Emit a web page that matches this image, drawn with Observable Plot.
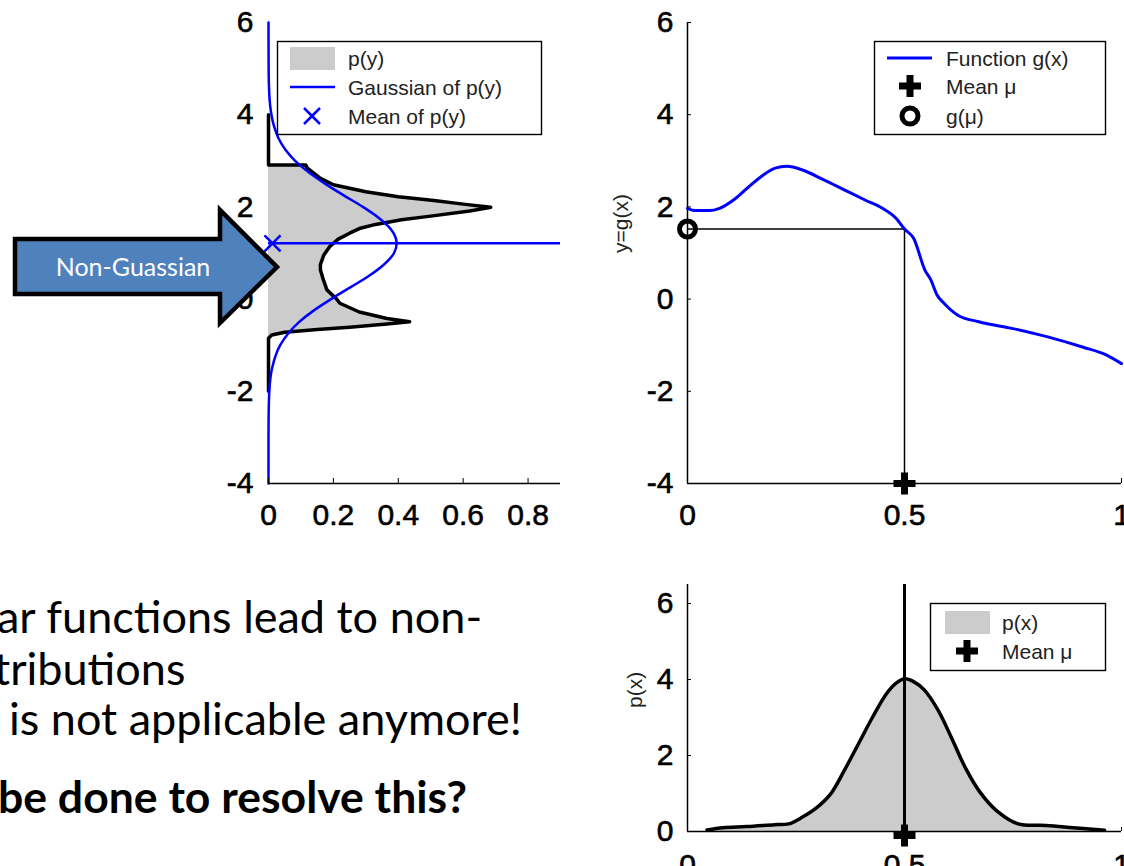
<!DOCTYPE html>
<html>
<head>
<meta charset="utf-8">
<script src="https://cdn.jsdelivr.net/npm/d3@7"></script>
<script src="https://cdn.jsdelivr.net/npm/@observablehq/plot@0.6"></script>
<style>
  html, body { margin: 0; padding: 0; background: #ffffff; }
  #slide { position: relative; width: 1124px; height: 866px; overflow: hidden; background: #ffffff; }
  #slide > div { position: absolute; }
  /* heavier tick numerals, as in the exported figure */
  #slide g[aria-label$="tick label"] text { stroke: black; stroke-width: 0.6px; }
</style>
</head>
<body>
<div id="slide"></div>
<script>
// ---------- data ----------
// p(y): density of the transformed variable, traced along y
const pyY = [4.0, 2.91, 2.91, 2.84, 2.62, 2.48, 2.33, 2.22, 2.14, 2.06, 1.99, 1.91, 1.80, 1.72, 1.62, 1.53, 1.43, 1.30, 1.15, 0.95, 0.75, 0.63, 0.40, 0.20, 0.0, -0.09, -0.28, -0.42, -0.49, -0.54, -0.61, -0.66, -0.72, -0.78, -0.85, -2.0];
const pyP = [0, 0, 0.115, 0.12, 0.16, 0.20, 0.30, 0.40, 0.51, 0.60, 0.685, 0.62, 0.50, 0.41, 0.33, 0.28, 0.25, 0.215, 0.19, 0.17, 0.16, 0.16, 0.17, 0.18, 0.21, 0.22, 0.28, 0.365, 0.435, 0.365, 0.25, 0.15, 0.05, 0.01, 0, 0];

// Gaussian fitted to p(y)
const gaussY = [6, 5, 4.5, 4, 3.75, 3.5, 3.25, 3, 2.75, 2.5, 2.25, 2, 1.75, 1.5, 1.21, 1, 0.75, 0.5, 0.25, 0, -0.25, -0.5, -0.75, -1, -1.5, -2, -2.5, -3, -4];
const gaussP = [0, 0.0004, 0.002, 0.009, 0.017, 0.030, 0.051, 0.082, 0.124, 0.175, 0.232, 0.291, 0.342, 0.379, 0.395, 0.387, 0.356, 0.309, 0.251, 0.193, 0.139, 0.094, 0.060, 0.036, 0.011, 0.0025, 0.0005, 0, 0];
const meanOfPy = 1.21;

// nonlinear function y = g(x)
const gX = [0, 0.018, 0.05, 0.074, 0.106, 0.138, 0.17, 0.202, 0.229, 0.265, 0.313, 0.361, 0.409, 0.449, 0.481, 0.5, 0.521, 0.547, 0.561, 0.575, 0.591, 0.623, 0.671, 0.75, 0.83, 0.91, 0.967, 1.0];
const gY = [1.97, 1.92, 1.92, 1.97, 2.15, 2.41, 2.66, 2.84, 2.88, 2.80, 2.59, 2.37, 2.15, 1.97, 1.75, 1.52, 1.32, 0.63, 0.41, 0.09, -0.09, -0.35, -0.49, -0.64, -0.82, -1.04, -1.22, -1.40];
const meanMu = 0.5;
const gOfMu = 1.52;

// input density p(x)
const pxX = [0.045, 0.082, 0.137, 0.201, 0.233, 0.265, 0.297, 0.33, 0.361, 0.394, 0.426, 0.458, 0.48, 0.5, 0.52, 0.546, 0.577, 0.609, 0.641, 0.673, 0.714, 0.762, 0.826, 0.889, 0.961];
const pxP = [0.04, 0.10, 0.13, 0.18, 0.20, 0.38, 0.62, 0.99, 1.60, 2.31, 3.00, 3.62, 3.90, 4.02, 3.95, 3.72, 3.20, 2.45, 1.66, 1.05, 0.53, 0.20, 0.16, 0.10, 0.03];

// ticks and their labels
const pyTicks = [0, 0.2, 0.4, 0.6, 0.8];
const pyTickLabels = ["0", "0.2", "0.4", "0.6", "0.8"];
const yTicks = [-4, -2, 0, 2, 4, 6];
const yTickLabels = ["-4", "-2", "0", "2", "4", "6"];
const xTicks = [0, 0.5, 1];
const xTickLabels = ["0", "0.5", "1"];
const pTicks = [0, 2, 4, 6];
const pTickLabels = ["0", "2", "4", "6"];

// texts
const legendPy = ["p(y)", "Gaussian of p(y)", "Mean of p(y)"];
const legendG = ["Function g(x)", "Mean \u03bc", "g(\u03bc)"];
const legendPx = ["p(x)", "Mean \u03bc"];
const labelG = "y=g(x)";
const labelPx = "p(x)";
const arrowLabel = "Non-Guassian";
const bodyLines = ["ar functions lead to non-", "tributions", "is not applicable anymore!"];
const boldLine = "be done to resolve this?";

// ---------- helpers ----------
const W = 1124, H = 866;
const BLUE = "#0000ff";
const slide = document.getElementById("slide");
const axisFont = "'Liberation Sans', Arial, Helvetica, sans-serif";
const slideFont = "Lato, 'Open Sans', sans-serif";

function place(node, left, top, width) {
  const div = document.createElement("div");
  div.style.left = left + "px";
  div.style.top = top + "px";
  div.style.width = width + "px";
  div.appendChild(node);
  slide.appendChild(div);
}
const labeler = (ticks, labels) => {
  const m = new Map(ticks.map((t, i) => [t, labels[i]]));
  return d => m.get(d);
};
const plusSymbol = {draw(ctx, size) { const r = Math.sqrt(size / Math.PI); ctx.moveTo(-r, 0); ctx.lineTo(r, 0); ctx.moveTo(0, -r); ctx.lineTo(0, r); }};
const timesSymbol = {draw(ctx, size) { const r = Math.sqrt(size / Math.PI); ctx.moveTo(-r, -r); ctx.lineTo(r, r); ctx.moveTo(-r, r); ctx.lineTo(r, -r); }};
const plotStyle = {fontFamily: axisFont, fontSize: "30px", background: "transparent", overflow: "visible", color: "black"};

const pyRows = pyY.map((y, i) => ({y, p: pyP[i]}));
const gaussRows = gaussY.map((y, i) => ({y, p: gaussP[i]}));
const gRows = gX.map((x, i) => ({x, y: gY[i]}));
const pxRows = pxX.map((x, i) => ({x, p: pxP[i]}));

// ---------- top left: p(y) with its Gaussian ----------
const plotPy = Plot.plot({
  width: 600, height: 560,
  marginLeft: 268, marginRight: 40, marginTop: 22, marginBottom: 77,
  x: {domain: [0, 0.9]},
  y: {domain: [-4, 6]},
  style: plotStyle,
  marks: [
    Plot.areaX(pyRows, {y: "y", x1: 0, x2: "p", fill: "#cccccc"}),
    Plot.lineX(pyRows, {x: "p", y: "y", stroke: "black", strokeWidth: 3.5}),
    Plot.lineX(gaussRows, {x: "p", y: "y", stroke: BLUE, strokeWidth: 2.5, curve: "monotone-y"}),
    Plot.ruleY([meanOfPy], {stroke: BLUE, strokeWidth: 2.5}),
    Plot.dot([meanOfPy], {x: 0, y: d => d, dx: 4, symbol: timesSymbol, r: 8, fill: "none", stroke: BLUE, strokeWidth: 2.5}),
    Plot.ruleY([-4], {stroke: "black", strokeWidth: 1.5}),
    Plot.axisX({ticks: pyTicks, tickFormat: labeler(pyTicks, pyTickLabels), tickSize: -5, tickPadding: 25, label: null}),
    Plot.axisY({ticks: yTicks, tickFormat: labeler(yTicks, yTickLabels), tickSize: 0, tickPadding: 15, label: null})
  ]
});
place(plotPy, 0, 0, 600);

// ---------- top right: g(x) ----------
const plotG = Plot.plot({
  width: 600, height: 560,
  marginLeft: 87, marginRight: 79, marginTop: 22, marginBottom: 77,
  x: {domain: [0, 1]},
  y: {domain: [-4, 6]},
  style: plotStyle,
  marks: [
    Plot.ruleX([0], {stroke: "black", strokeWidth: 1.5}),
    Plot.ruleY([-4], {stroke: "black", strokeWidth: 1.5}),
    Plot.ruleY([gOfMu], {x1: 0, x2: meanMu, stroke: "black", strokeWidth: 1.5}),
    Plot.ruleX([meanMu], {y1: -4, y2: gOfMu, stroke: "black", strokeWidth: 1.5}),
    Plot.line(gRows, {x: "x", y: "y", stroke: BLUE, strokeWidth: 3, curve: "monotone-x"}),
    Plot.dot([gOfMu], {x: 0, y: d => d, r: 8, fill: "none", stroke: "black", strokeWidth: 5}),
    Plot.dot([meanMu], {x: d => d, y: -4, symbol: plusSymbol, r: 11, fill: "none", stroke: "black", strokeWidth: 7}),
    Plot.axisX({ticks: xTicks, tickFormat: labeler(xTicks, xTickLabels), tickSize: -5, tickPadding: 25, label: null}),
    Plot.axisY({ticks: yTicks, tickFormat: labeler(yTicks, yTickLabels), tickSize: -4, tickPadding: 18, label: null}),
    Plot.text([labelG], {frameAnchor: "left", text: d => d, rotate: -90, dx: -66, fontSize: 21, fill: "#222"})
  ]
});
place(plotG, 600, 0, 600);

// ---------- bottom right: p(x) ----------
const plotPx = Plot.plot({
  width: 600, height: 340,
  marginLeft: 87, marginRight: 79, marginTop: 24, marginBottom: 69,
  x: {domain: [0, 1]},
  y: {domain: [0, 6.5]},
  style: plotStyle,
  marks: [
    Plot.areaY(pxRows, {x: "x", y1: 0, y2: "p", fill: "#cccccc", curve: "catmull-rom"}),
    Plot.line(pxRows, {x: "x", y: "p", stroke: "black", strokeWidth: 3.5, curve: "catmull-rom"}),
    Plot.ruleX([0], {stroke: "black", strokeWidth: 1.5}),
    Plot.ruleY([0], {stroke: "black", strokeWidth: 1.5}),
    Plot.ruleX([meanMu], {stroke: "black", strokeWidth: 3}),
    Plot.dot([meanMu], {x: d => d, y: 0, dy: 4, symbol: plusSymbol, r: 11, fill: "none", stroke: "black", strokeWidth: 7}),
    Plot.axisX({ticks: xTicks, tickFormat: labeler(xTicks, xTickLabels), tickSize: -4, tickPadding: 26, label: null}),
    Plot.axisY({ticks: pTicks, tickFormat: labeler(pTicks, pTickLabels), tickSize: -4, tickPadding: 18, label: null}),
    Plot.text([labelPx], {frameAnchor: "left", text: d => d, rotate: -90, dx: -52, fontSize: 21, fill: "#222"})
  ]
});
place(plotPx, 600, 560, 600);

// ---------- overlay: legends, arrow and slide text ----------
const ov = d3.create("svg")
  .attr("width", W).attr("height", H)
  .style("position", "absolute").style("left", "0px").style("top", "0px");

function box(x, y, w, h) {
  ov.append("rect").attr("x", x + 0.5).attr("y", y + 0.5).attr("width", w).attr("height", h)
    .attr("fill", "white").attr("stroke", "black").attr("stroke-width", 1.4);
}
function ltext(x, y, s) {
  ov.append("text").attr("x", x).attr("y", y).attr("dy", "0.36em")
    .attr("font-family", axisFont).attr("font-size", 21).attr("fill", "#222").text(s);
}
function patch(cx, cy) {
  ov.append("rect").attr("x", cx - 22).attr("y", cy - 11).attr("width", 45).attr("height", 23).attr("fill", "#cccccc");
}
function plusMark(cx, cy) {
  ov.append("path").attr("d", `M${cx - 11},${cy}H${cx + 11}M${cx},${cy - 11}V${cy + 11}`)
    .attr("stroke", "black").attr("stroke-width", 7).attr("fill", "none");
}

// legend of p(y)
box(277, 41, 264, 93);
patch(312, 58); ltext(348, 58, legendPy[0]);
ov.append("line").attr("x1", 290).attr("x2", 335).attr("y1", 87).attr("y2", 87).attr("stroke", BLUE).attr("stroke-width", 2.5);
ltext(348, 87, legendPy[1]);
ov.append("path").attr("d", "M304,108L320,124M304,124L320,108").attr("stroke", BLUE).attr("stroke-width", 2.5);
ltext(348, 116, legendPy[2]);

// legend of g(x)
box(874, 41, 231, 93);
ov.append("line").attr("x1", 887).attr("x2", 932).attr("y1", 58).attr("y2", 58).attr("stroke", BLUE).attr("stroke-width", 3);
ltext(946, 58, legendG[0]);
plusMark(910, 86); ltext(946, 86, legendG[1]);
ov.append("circle").attr("cx", 910).attr("cy", 116).attr("r", 8).attr("fill", "none").attr("stroke", "black").attr("stroke-width", 5);
ltext(946, 116, legendG[2]);

// legend of p(x)
box(930, 603, 175, 67);
patch(967, 622); ltext(1002, 622, legendPx[0]);
plusMark(967, 651); ltext(1002, 651, legendPx[1]);

// block arrow
ov.append("polygon")
  .attr("points", "15,239 220,239 220,210 277,267 220,323 220,294 15,294")
  .attr("fill", "#4f81bd").attr("stroke", "black").attr("stroke-width", 4.5).attr("stroke-linejoin", "miter");
ov.append("text").attr("x", 133).attr("y", 267).attr("dy", "0.35em").attr("text-anchor", "middle")
  .attr("font-family", slideFont).attr("font-size", 25).attr("fill", "white").text(arrowLabel);

// slide body text
const body = ov.append("g").attr("font-family", slideFont).attr("fill", "black");
const t1 = body.append("text").attr("x", -3).attr("y", 633).text(bodyLines[0]);
const t2 = body.append("text").attr("x", -6).attr("y", 685).text(bodyLines[1]);
const t3 = body.append("text").attr("x", 9).attr("y", 735).text(bodyLines[2]);
const t4 = body.append("text").attr("x", -2).attr("y", 813).attr("font-weight", "bold").text(boldLine);

slide.appendChild(ov.node());

// size the body text so its lines run the same length as on the slide
[t1, t2, t3, t4].forEach(t => t.attr("font-size", 40));
const k = 513 / t3.node().getComputedTextLength();
[t1, t2, t3].forEach(t => t.attr("font-size", 40 * k));
const kb = 469 / t4.node().getComputedTextLength();
t4.attr("font-size", 40 * kb);
</script>
</body>
</html>
